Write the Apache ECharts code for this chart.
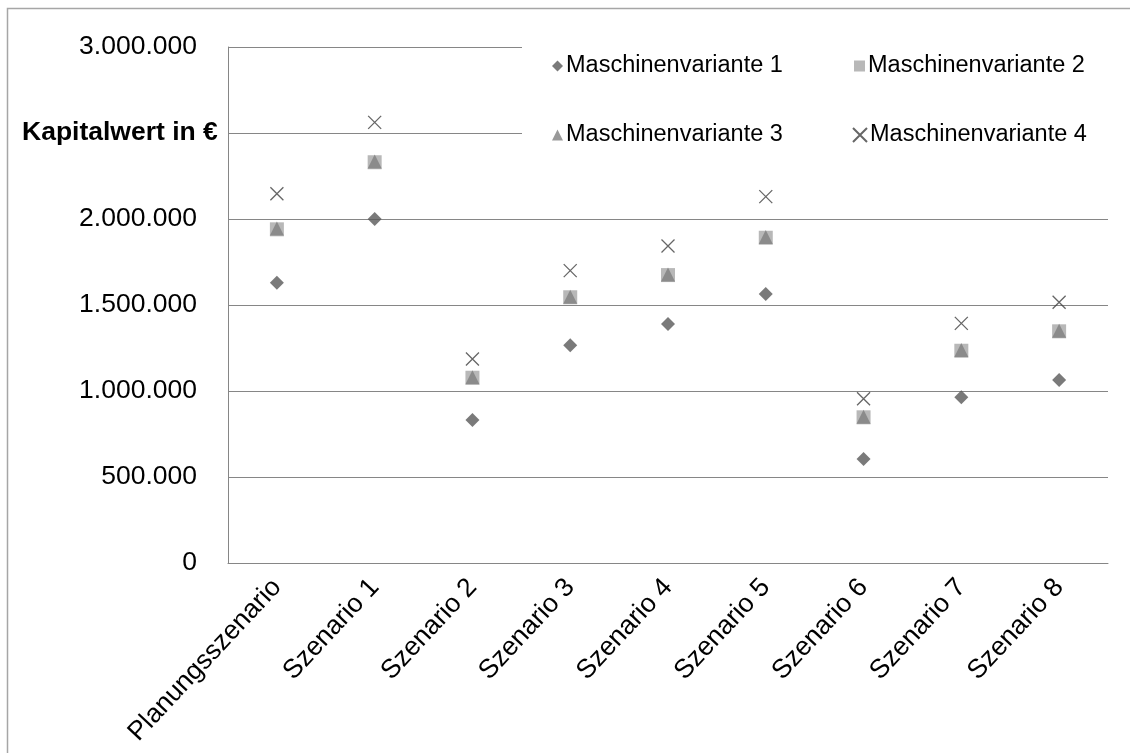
<!DOCTYPE html>
<html><head><meta charset="utf-8">
<script src="https://cdn.jsdelivr.net/npm/echarts@6/dist/echarts.min.js"></script>
<style>html,body{margin:0;padding:0;background:#fff}#c{width:1130px;height:753px}</style>
</head><body><div id="c"></div>
<script>
const categories = ['Planungsszenario','Szenario 1','Szenario 2','Szenario 3','Szenario 4','Szenario 5','Szenario 6','Szenario 7','Szenario 8'];
const seriesNames = ['Maschinenvariante 1','Maschinenvariante 2','Maschinenvariante 3','Maschinenvariante 4'];
const mv1 = [1630000, 2000000, 831000, 1266000, 1390000, 1564000, 605000, 963000, 1064000];
const mv2 = [1940000, 2330000, 1077000, 1545000, 1674000, 1891000, 847000, 1234000, 1347000];
const mv3 = [1945000, 2335000, 1080000, 1548000, 1678000, 1895000, 850000, 1238000, 1350000];
const mv4 = [2147000, 2562000, 1186000, 1700000, 1843000, 2130000, 955000, 1393000, 1516000];
const yTicks = {min: 0, max: 3000000, interval: 500000};
const hiddenTick = 2500000;

const FONT = 'Arial, "Liberation Sans", sans-serif';
const xPath = 'path://M0,0L10,10M10,0L0,10';
const chart = echarts.init(document.getElementById('c'));

function fmt(v){ return v === hiddenTick ? '' : String(v).replace(/\B(?=(\d{3})+(?!\d))/g, '.'); }

const legendPos = [
  {left: 547, top: 49},
  {left: 849, top: 49},
  {left: 547, top: 118},
  {left: 847, top: 118}
];

chart.setOption({
  animation: false,
  backgroundColor: '#fff',
  graphic: [
    {type: 'rect', z: -1, shape: {x: 7.5, y: 8.5, width: 1200, height: 800}, style: {fill: '#fff', stroke: '#a6a6a6', lineWidth: 1.5}},
    {type: 'rect', z: 1, shape: {x: 522, y: 38, width: 600, height: 114}, style: {fill: '#fff'}},
    {type: 'text', z: 5, left: 22, top: 119, style: {text: 'Kapitalwert in €', font: 'bold 26.5px ' + FONT, fill: '#000'}}
  ],
  grid: {left: 228, right: 22, top: 47, bottom: 190},
  legend: legendPos.map((p, i) => ({
    data: [seriesNames[i]], left: p.left, top: p.top, orient: 'horizontal',
    itemWidth: i === 3 ? 14 : 11, itemHeight: i === 3 ? 14 : 11, itemGap: 4,
    textStyle: {fontFamily: FONT, fontSize: 23.5, color: '#000', padding: [0,0,0,-2]},
    selectedMode: false
  })),
  xAxis: {
    type: 'category', data: categories,
    axisLine: {lineStyle: {color: '#868686', width: 1}},
    axisTick: {show: false},
    axisLabel: {rotate: 47, interval: 0, margin: 20, fontFamily: FONT, fontSize: 26.5, color: '#000'},
    splitLine: {show: false}
  },
  yAxis: {
    type: 'value', min: yTicks.min, max: yTicks.max, interval: yTicks.interval,
    axisLine: {show: true, lineStyle: {color: '#868686', width: 1}},
    axisTick: {show: false},
    axisLabel: {margin: 31, fontFamily: FONT, fontSize: 26.5, color: '#000', formatter: fmt},
    splitLine: {lineStyle: {color: '#868686', width: 1}}
  },
  series: [
    {name: seriesNames[0], type: 'scatter', data: mv1, symbol: 'diamond', symbolSize: 14, itemStyle: {color: '#595959'}, z: 5},
    {name: seriesNames[1], type: 'scatter', data: mv2, symbol: 'rect', symbolSize: 14, itemStyle: {color: '#a6a6a6'}, z: 3},
    {name: seriesNames[2], type: 'scatter', data: mv3, symbol: 'triangle', symbolSize: 14, itemStyle: {color: '#808080'}, z: 4},
    {name: seriesNames[3], type: 'scatter', data: mv4, symbol: xPath, symbolSize: 13, itemStyle: {color: 'rgba(0,0,0,0)', borderColor: '#404040', borderWidth: 1.3}, z: 5}
  ]
});
</script></body></html>
